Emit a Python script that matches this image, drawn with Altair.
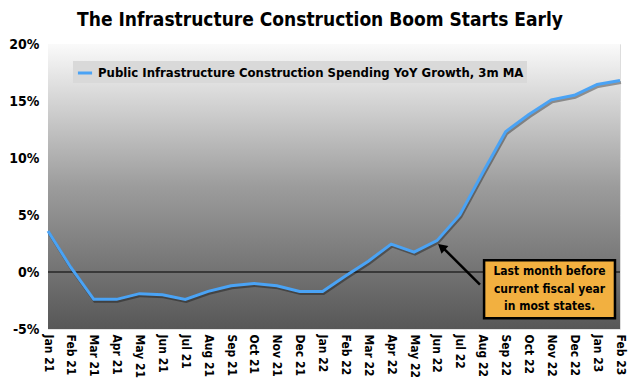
import json
import altair as alt
import pandas as pd

months = ["Jan 21", "Feb 21", "Mar 21", "Apr 21", "May 21", "Jun 21", "Jul 21",
          "Aug 21", "Sep 21", "Oct 21", "Nov 21", "Dec 21", "Jan 22", "Feb 22",
          "Mar 22", "Apr 22", "May 22", "Jun 22", "Jul 22", "Aug 22", "Sep 22",
          "Oct 22", "Nov 22", "Dec 22", "Jan 23", "Feb 23"]
values = [3.6, 0.4, -2.4, -2.4, -1.9, -2.0, -2.4, -1.7, -1.2, -1.0, -1.2, -1.7,
          -1.7, -0.35, 0.95, 2.45, 1.75, 2.75, 5.0, 8.7, 12.3, 13.8, 15.1, 15.5,
          16.45, 16.8]
series_name = "Public Infrastructure Construction Spending YoY Growth, 3m MA"
y_ticks = [-5, 0, 5, 10, 15, 20]
title_text = "The Infrastructure Construction Boom Starts Early"
note_lines = ["Last month before", "current fiscal year", "in most states."]
note_line_y = [0.05, -1.45, -2.95]

FONT = "'DejaVu Sans Condensed', 'Liberation Sans', sans-serif"
W, H = 572, 285

df = pd.DataFrame({"idx": list(range(len(months))), "month": months,
                   "value": values, "series": series_name})

label_expr = json.dumps(months).replace('"', "'") + "[datum.value]"

x_enc = alt.X("idx:Q", scale=alt.Scale(domain=[0, 25], nice=False, zero=False),
              axis=alt.Axis(values=list(range(26)), labelExpr=label_expr,
                            labelAngle=90, labelFontSize=12, labelFont=FONT,
                            labelFontWeight="bold", labelColor="black",
                            ticks=False, domain=False, grid=False,
                            labelPadding=5, title=None, labelOverlap=False))
y_enc = alt.Y("value:Q", scale=alt.Scale(domain=[-5, 20], nice=False),
              axis=alt.Axis(values=y_ticks, labelExpr="datum.value + '%'",
                            labelFontSize=14, labelFont=FONT,
                            labelFontWeight="bold", labelColor="black",
                            ticks=False, domain=False, grid=True,
                            gridColor="white", gridOpacity=0.25,
                            labelPadding=9, title=None))

gradient = {"gradient": "linear", "x1": 0, "y1": 0, "x2": 0, "y2": 1,
            "stops": [{"offset": 0, "color": "#fafafa"},
                      {"offset": 0.5, "color": "#9c9c9c"},
                      {"offset": 1, "color": "#575757"}]}

bg = alt.Chart(pd.DataFrame({"a": [0]})).mark_rect(fill=gradient).encode(
    x=alt.value(0), x2=alt.value(W), y=alt.value(0), y2=alt.value(H))

zero = alt.Chart(pd.DataFrame({"value": [0]})).mark_rule(
    color="black", strokeWidth=1.2).encode(y=y_enc)

shadow = alt.Chart(df).mark_line(color="black", opacity=0.35, strokeWidth=3,
                                 xOffset=1, yOffset=2).encode(x=x_enc, y=y_enc)

line = alt.Chart(df).mark_line(strokeWidth=3).encode(
    x=x_enc, y=y_enc,
    color=alt.Color("series:N", scale=alt.Scale(range=["#4aa3f5"]),
                    legend=alt.Legend(orient="none", legendX=25, legendY=17,
                                      title=None, fillColor="#d9d9d9",
                                      padding=3, symbolType="stroke",
                                      symbolStrokeWidth=3, symbolSize=200,
                                      labelFont=FONT, labelFontSize=13,
                                      labelFontWeight="bold", labelColor="black",
                                      labelLimit=600, offset=0)))

box_df = pd.DataFrame({"idx": [19.06], "idx2": [24.78], "value": [1.03], "value2": [-4.06]})
box = alt.Chart(box_df).mark_rect(fill="#f2b040", stroke="black", strokeWidth=2.5).encode(
    x=x_enc, x2="idx2:Q", y=y_enc, y2="value2:Q")

text_df = pd.DataFrame({"idx": [21.92] * 3, "value": note_line_y, "t": note_lines})
note = alt.Chart(text_df).mark_text(font=FONT, fontSize=12, fontWeight="bold",
                                    color="black", align="center",
                                    baseline="middle").encode(
    x=x_enc, y=y_enc, text="t:N")

arrow_df = pd.DataFrame({"idx": [18.88], "value": [-1.1], "idx2": [17.3], "value2": [2.05]})
arrow_line = alt.Chart(arrow_df).mark_rule(color="black", strokeWidth=2.5).encode(
    x=x_enc, y=y_enc, x2="idx2:Q", y2="value2:Q")
head_df = pd.DataFrame({"idx": [17.2], "value": [2.2]})
arrow_head = alt.Chart(head_df).mark_point(shape="triangle-up", filled=True,
                                           color="black", opacity=1, size=110,
                                           angle=311).encode(x=x_enc, y=y_enc)

chart = alt.layer(bg, zero, shadow, line, arrow_line, arrow_head, box, note).properties(
    width=W, height=H,
    title=alt.TitleParams(title_text, font=FONT, fontSize=19, fontWeight="bold",
                          color="black", anchor="middle", offset=7, dx=-14),
    autosize=alt.AutoSizeParams(type="none"),
    padding={"left": 40, "top": 36, "right": 12, "bottom": 50},
).configure_view(stroke="#808080", strokeWidth=1.5).configure_axisX(
    labelOverlap=False).configure(background="white")

chart.save("out.html", embed_options={"renderer": "svg", "actions": False})
